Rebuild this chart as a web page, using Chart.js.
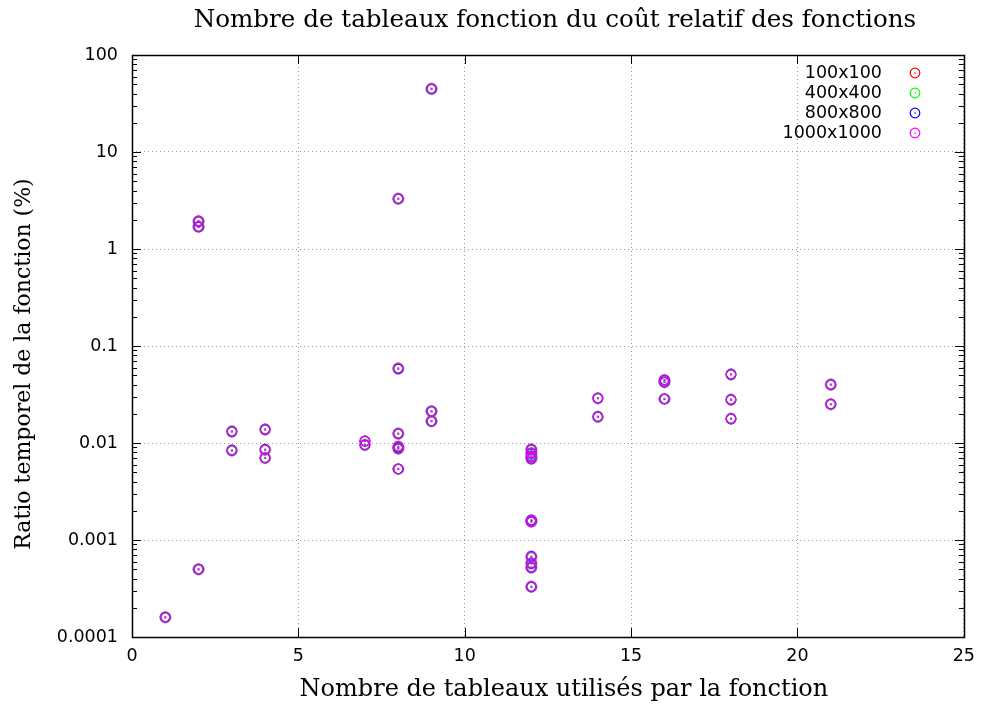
<!DOCTYPE html>
<html>
<head>
<meta charset="utf-8">
<script src="https://cdn.jsdelivr.net/npm/chart.js@4/dist/chart.umd.min.js"></script>
<style>
  body { margin: 0; background: #fff; }
  #wrap { width: 984px; height: 706px; }
</style>
</head>
<body>
<div id="wrap"><canvas id="chart" width="984" height="706"></canvas></div>
<script>
// Data
const seriesLabels = ['100x100', '400x400', '800x800', '1000x1000'];
const seriesColors = ['#ff0000', '#00ff00', '#0000ff', '#ff00ff'];

// number of arrays used by the function
const xs = [1, 2, 2, 2, 3, 3, 4, 4, 4, 7, 7,
  8, 8, 8, 8, 8, 8, 9, 9, 9,
  12, 12, 12, 12, 12, 12, 12, 12, 12, 12,
  14, 14, 16, 16, 16, 18, 18, 18, 21, 21];

// time ratio of the function (%)
const y100 = [0.00016, 1.95, 1.70, 0.0005, 0.0132, 0.0084, 0.0138, 0.0085, 0.0070, 0.0105, 0.0096,
  3.3, 0.059, 0.0125, 0.0092, 0.0088, 0.0054, 45, 0.0213, 0.0168,
  0.0086, 0.0079, 0.0072, 0.0069, 0.0016, 0.00155, 0.00067, 0.00058, 0.00052, 0.00033,
  0.029, 0.0187, 0.0445, 0.0425, 0.0285, 0.051, 0.028, 0.0178, 0.040, 0.0252];
const y400 = [0.00016, 1.93, 1.70, 0.0005, 0.0132, 0.0084, 0.0138, 0.0085, 0.0071, 0.0104, 0.0096,
  3.3, 0.059, 0.0125, 0.0092, 0.0087, 0.0054, 45, 0.0213, 0.0168,
  0.0085, 0.0078, 0.0072, 0.0069, 0.0016, 0.00156, 0.00066, 0.00058, 0.00053, 0.00033,
  0.029, 0.0187, 0.0443, 0.0425, 0.0285, 0.051, 0.028, 0.0178, 0.040, 0.0252];
const y800 = [0.00016, 1.92, 1.69, 0.0005, 0.0131, 0.0084, 0.0138, 0.0086, 0.0070, 0.0105, 0.0095,
  3.3, 0.058, 0.0125, 0.0091, 0.0088, 0.0054, 44.5, 0.0212, 0.0168,
  0.0086, 0.0078, 0.0073, 0.0069, 0.0016, 0.00155, 0.00068, 0.00057, 0.00052, 0.00033,
  0.029, 0.0186, 0.0447, 0.0423, 0.0285, 0.051, 0.028, 0.0178, 0.040, 0.0251];
const y1000 = [0.00016, 1.94, 1.70, 0.0005, 0.0132, 0.0084, 0.0138, 0.0085, 0.0070, 0.0105, 0.0096,
  3.3, 0.059, 0.0125, 0.0092, 0.0088, 0.0054, 45, 0.0213, 0.0168,
  0.0086, 0.0079, 0.0072, 0.0069, 0.0016, 0.00155, 0.00067, 0.00058, 0.00052, 0.00033,
  0.029, 0.0187, 0.0445, 0.0425, 0.0285, 0.051, 0.028, 0.0178, 0.040, 0.0252];
const seriesValues = [y100, y400, y800, y1000];

const xTicks = [0, 5, 10, 15, 20, 25];
const yTicks = [0.0001, 0.001, 0.01, 0.1, 1, 10, 100];

const titleText = 'Nombre de tableaux fonction du coût relatif des fonctions';
const xTitle = 'Nombre de tableaux utilisés par la fonction';
const yTitle = 'Ratio temporel de la fonction (%)';

const serifFont = '"DejaVu Serif", serif';
const sansFont = '"DejaVu Sans", sans-serif';

// open circle with a dot in the middle, like gnuplot point type 6
function makeMarker(color) {
  const c = document.createElement('canvas');
  c.width = 14; c.height = 14;
  const g = c.getContext('2d');
  g.strokeStyle = color;
  g.lineWidth = 1.2;
  g.beginPath();
  g.arc(7, 7, 4.8, 0, Math.PI * 2);
  g.stroke();
  g.fillStyle = color;
  g.fillRect(6.4, 6.4, 1.3, 1.3);
  return c;
}
const markers = seriesColors.map(makeMarker);

// last series drawn on top, as in the original plot
const datasets = seriesLabels.map((label, i) => ({
  label: label,
  data: xs.map((x, j) => ({ x: x, y: seriesValues[i][j] })),
  pointStyle: markers[i],
  borderColor: seriesColors[i],
  backgroundColor: seriesColors[i],
  order: seriesLabels.length - i,
  showLine: false
}));

// frame, inward ticks, titles and the gnuplot-style legend
const decorations = {
  id: 'decorations',
  afterDatasetsDraw(chart) {
    const ctx = chart.ctx;
    const a = chart.chartArea;
    const sx = chart.scales.x, sy = chart.scales.y;
    ctx.save();
    ctx.strokeStyle = '#000';
    ctx.lineWidth = 1;

    // ticks
    ctx.beginPath();
    xTicks.forEach(v => {
      const px = Math.round(sx.getPixelForValue(v)) + 0.5;
      ctx.moveTo(px, a.bottom); ctx.lineTo(px, a.bottom - 9);
      ctx.moveTo(px, a.top); ctx.lineTo(px, a.top + 9);
    });
    yTicks.forEach(v => {
      const py = Math.round(sy.getPixelForValue(v)) + 0.5;
      ctx.moveTo(a.left, py); ctx.lineTo(a.left + 9, py);
      ctx.moveTo(a.right, py); ctx.lineTo(a.right - 9, py);
    });
    for (let d = 0.0001; d < 100; d *= 10) {
      for (let m = 2; m <= 9; m++) {
        const py = Math.round(sy.getPixelForValue(m * d)) + 0.5;
        ctx.moveTo(a.left, py); ctx.lineTo(a.left + 5, py);
        ctx.moveTo(a.right, py); ctx.lineTo(a.right - 5, py);
      }
    }
    ctx.stroke();

    // frame
    ctx.lineWidth = 1.5;
    ctx.strokeRect(Math.round(a.left) + 0.5, Math.round(a.top) + 0.5,
      Math.round(a.right - a.left), Math.round(a.bottom - a.top));

    // titles
    ctx.fillStyle = '#000';
    ctx.textAlign = 'center';
    ctx.textBaseline = 'middle';
    const cx = (a.left + a.right) / 2;
    ctx.font = '24.6px ' + serifFont;
    ctx.fillText(titleText, cx + 7, 21);
    ctx.font = '24px ' + serifFont;
    ctx.fillText(xTitle, cx + 16, 690);
    ctx.save();
    ctx.font = '22px ' + serifFont;
    ctx.translate(24, 364);
    ctx.rotate(-Math.PI / 2);
    ctx.fillText(yTitle, 0, 0);
    ctx.restore();

    // legend
    ctx.font = '17.5px ' + sansFont;
    ctx.textAlign = 'right';
    chart.data.datasets.forEach((ds, i) => {
      const y = 73 + i * 20;
      ctx.fillText(ds.label, 882, y);
      ctx.drawImage(ds.pointStyle, 915 - 7, y - 7);
    });
    ctx.restore();
  }
};

new Chart(document.getElementById('chart'), {
  type: 'scatter',
  data: { datasets: datasets },
  options: {
    responsive: false,
    devicePixelRatio: 1,
    animation: false,
    layout: { padding: { top: 55, right: 18, left: 0, bottom: 0 } },
    plugins: {
      legend: { display: false },
      title: { display: false },
      tooltip: { enabled: false }
    },
    elements: { point: { radius: 5 } },
    scales: {
      x: {
        type: 'linear',
        min: 0, max: 25,
        afterBuildTicks: s => { s.ticks = xTicks.map(v => ({ value: v })); },
        afterFit: s => { s.height = 69; },
        ticks: { color: '#000', font: { family: sansFont, size: 17.5 }, padding: 9, maxRotation: 0 },
        grid: { color: '#999', drawTicks: false },
        border: { display: false, dash: [1, 3] }
      },
      y: {
        type: 'logarithmic',
        min: 0.0001, max: 100,
        afterBuildTicks: s => { s.ticks = yTicks.map(v => ({ value: v })); },
        afterFit: s => { s.width = 132; },
        ticks: {
          color: '#000', font: { family: sansFont, size: 17.5 }, padding: 14,
          callback: v => String(v)
        },
        grid: { color: '#999', drawTicks: false },
        border: { display: false, dash: [1, 3] }
      }
    }
  },
  plugins: [decorations]
});
</script>
</body>
</html>
